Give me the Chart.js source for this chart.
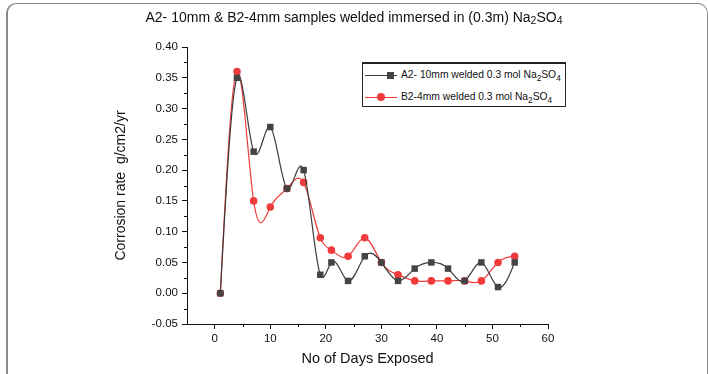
<!DOCTYPE html>
<html>
<head>
<meta charset="utf-8">
<script src="https://cdn.jsdelivr.net/npm/chart.js@4.4.1/dist/chart.umd.min.js"></script>
<style>
  html, body { margin: 0; padding: 0; background: #fff; }
  #wrap { position: relative; width: 708px; height: 374px; overflow: hidden; font-family: "Liberation Sans", Arial, sans-serif; color: #111; }
  #frame { position: absolute; left: 6px; top: 3px; width: 702px; height: 420px; box-sizing: border-box; border: 1px solid #8a8a8a; border-left-width: 2px; border-radius: 10px; }
  #chart { position: absolute; left: 0; top: 0; }
  #title { position: absolute; left: 0; width: 708px; top: 9px; text-align: center; font-size: 14px; }
  #title sub { font-size: 0.75em; vertical-align: -2px; line-height: 0; }
  #legend { position: absolute; left: 362px; top: 62px; width: 204px; height: 45px; box-sizing: border-box; border: 1px solid #222; border-top-width: 2px; background: #fff; }
  .row { position: absolute; left: 0; height: 14px; width: 100%; }
  .ln { position: absolute; left: 2px; width: 32px; top: 7px; height: 1px; }
  .mk { position: absolute; top: 3px; }
  .txt { position: absolute; left: 38px; top: 0; font-size: 10.3px; line-height: 14px; white-space: nowrap; }
  .txt sub { font-size: 0.8em; vertical-align: -3px; line-height: 0; }
</style>
</head>
<body>
<div id="wrap">
  <div id="frame"></div>
  <canvas id="chart" width="708" height="374"></canvas>
  <div id="title">A2- 10mm &amp; B2-4mm samples welded immersed in (0.3m) Na<sub>2</sub>SO<sub>4</sub></div>
  <div id="legend"></div>
</div>
<script>
const days = [1, 4, 7, 10, 13, 16, 19, 21, 24, 27, 30, 33, 36, 39, 42, 45, 48, 51, 54];
const a2Rate = [0, 0.35, 0.23, 0.27, 0.17, 0.20, 0.03, 0.05, 0.02, 0.06, 0.05, 0.02, 0.04, 0.05, 0.04, 0.02, 0.05, 0.01, 0.05];
const b2Rate = [0, 0.36, 0.15, 0.14, 0.17, 0.18, 0.09, 0.07, 0.06, 0.09, 0.05, 0.03, 0.02, 0.02, 0.02, 0.02, 0.02, 0.05, 0.06];
const seriesNames = ["A2- 10mm welded 0.3 mol Na2SO4", "B2-4mm welded 0.3 mol Na2SO4"];
const xTicks = [0, 10, 20, 30, 40, 50, 60];
const yTicks = [-0.05, 0, 0.05, 0.10, 0.15, 0.20, 0.25, 0.30, 0.35, 0.40];

const FONT = "'Liberation Sans', Arial, sans-serif";
const grayLine = "#3c3c3c";
const redLine = "#ef3b3b";

function withSubs(name) {
  return name.replace("Na2SO4", "Na<sub>2</sub>SO<sub>4</sub>");
}

// legend built from the series names
const legend = document.getElementById("legend");
[
  { color: grayLine, mark: "left:24px;width:7px;height:7px;top:4px;background:#444", top: 4 },
  { color: redLine, mark: "left:14px;width:8px;height:8px;top:3px;border-radius:50%;background:" + redLine, top: 26 },
].forEach((s, i) => {
  const row = document.createElement("div");
  row.className = "row";
  row.style.top = s.top + "px";
  row.innerHTML = `<span class="ln" style="background:${s.color}"></span><span class="mk" style="${s.mark}"></span><span class="txt">${withSubs(seriesNames[i])}</span>`;
  legend.appendChild(row);
});

// natural cubic spline through the points (Origin style), set as bezier control points
const splinePlugin = {
  id: "naturalSpline",
  beforeDatasetsDraw(chart) {
    chart.data.datasets.forEach((ds, di) => {
      const meta = chart.getDatasetMeta(di);
      const pts = meta.data;
      const n = pts.length;
      if (n < 3) return;
      const h = [], d = [];
      for (let k = 0; k < n - 1; k++) {
        h.push(pts[k + 1].x - pts[k].x);
        d.push((pts[k + 1].y - pts[k].y) / h[k]);
      }
      const M = new Array(n).fill(0);
      const a = [], b = [], c = [], r = [];
      for (let k = 1; k < n - 1; k++) {
        a.push(h[k - 1]);
        b.push(2 * (h[k - 1] + h[k]));
        c.push(h[k]);
        r.push(6 * (d[k] - d[k - 1]));
      }
      const m = b.length;
      for (let k = 1; k < m; k++) {
        const w = a[k] / b[k - 1];
        b[k] -= w * c[k - 1];
        r[k] -= w * r[k - 1];
      }
      const sol = new Array(m);
      sol[m - 1] = r[m - 1] / b[m - 1];
      for (let k = m - 2; k >= 0; k--) sol[k] = (r[k] - c[k] * sol[k + 1]) / b[k];
      for (let k = 0; k < m; k++) M[k + 1] = sol[k];
      const slope = [];
      for (let k = 0; k < n - 1; k++) slope.push(d[k] - h[k] * (2 * M[k] + M[k + 1]) / 6);
      slope.push(d[n - 2] + h[n - 2] * (M[n - 2] + 2 * M[n - 1]) / 6);
      for (let k = 0; k < n; k++) {
        const p = pts[k];
        const hp = k > 0 ? h[k - 1] / 3 : 0;
        const hn = k < n - 1 ? h[k] / 3 : 0;
        p.cp1x = p.x - hp; p.cp1y = p.y - slope[k] * hp;
        p.cp2x = p.x + hn; p.cp2y = p.y + slope[k] * hn;
      }
      meta.dataset._pointsUpdated = true;
    });
  },
};

// minor ticks between the labelled ones
const minorTicks = {
  id: "minorTicks",
  afterDraw(chart) {
    const ctx = chart.ctx;
    const xs = chart.scales.x, ys = chart.scales.y;
    ctx.save();
    ctx.strokeStyle = "#111";
    ctx.lineWidth = 1;
    ctx.beginPath();
    for (let i = 0; i < xTicks.length - 1; i++) {
      const px = Math.round(xs.getPixelForValue((xTicks[i] + xTicks[i + 1]) / 2)) + 0.5;
      ctx.moveTo(px, ys.bottom);
      ctx.lineTo(px, ys.bottom + 3);
    }
    for (let i = 0; i < yTicks.length - 1; i++) {
      const py = Math.round(ys.getPixelForValue((yTicks[i] + yTicks[i + 1]) / 2)) + 0.5;
      ctx.moveTo(xs.left, py);
      ctx.lineTo(xs.left - 3, py);
    }
    ctx.stroke();
    ctx.restore();
  },
};

new Chart(document.getElementById("chart"), {
  type: "line",
  data: {
    datasets: [
      {
        label: seriesNames[0],
        data: days.map((d, i) => ({ x: d, y: a2Rate[i] })),
        borderColor: grayLine,
        backgroundColor: "#444",
        borderWidth: 1.2,
        pointStyle: "rect",
        pointRadius: 4.6,
        pointBorderWidth: 0,
        tension: 0.4,
      },
      {
        label: seriesNames[1],
        data: days.map((d, i) => ({ x: d, y: b2Rate[i] })),
        borderColor: redLine,
        backgroundColor: redLine,
        borderWidth: 1.2,
        pointStyle: "circle",
        pointRadius: 3.8,
        pointBorderWidth: 0,
        tension: 0.4,
      },
    ],
  },
  options: {
    responsive: false,
    animation: false,
    layout: { padding: { left: 113, top: 47, right: 160, bottom: 0 } },
    plugins: { legend: { display: false }, tooltip: { enabled: false } },
    scales: {
      x: {
        type: "linear",
        min: -5,
        max: 60,
        afterBuildTicks: (s) => { s.ticks = xTicks.map((v) => ({ value: v })); },
        afterFit: (s) => { s.height = 50; },
        grid: { drawOnChartArea: false, drawTicks: true, tickLength: 5, color: "#111" },
        border: { color: "#111", width: 1 },
        ticks: { color: "#111", padding: 3, font: { family: FONT, size: 11.5 }, maxRotation: 0 },
        title: { display: true, text: "No of Days Exposed", color: "#111", padding: { top: 0, bottom: 6 }, font: { family: FONT, size: 14.5 } },
      },
      y: {
        min: -0.05,
        max: 0.40,
        afterBuildTicks: (s) => { s.ticks = yTicks.map((v) => ({ value: v })); },
        afterFit: (s) => { s.width = 187 - 113; },
        grid: { drawOnChartArea: false, drawTicks: true, tickLength: 5, color: "#111" },
        border: { color: "#111", width: 1 },
        ticks: { color: "#111", padding: 4, font: { family: FONT, size: 11.5 }, callback: (v) => v.toFixed(2) },
        title: { display: true, text: "Corrosion rate  g/cm2/yr", color: "#111", padding: 0, font: { family: FONT, size: 14 } },
      },
    },
  },
  plugins: [splinePlugin, minorTicks],
});
</script>
</body>
</html>
